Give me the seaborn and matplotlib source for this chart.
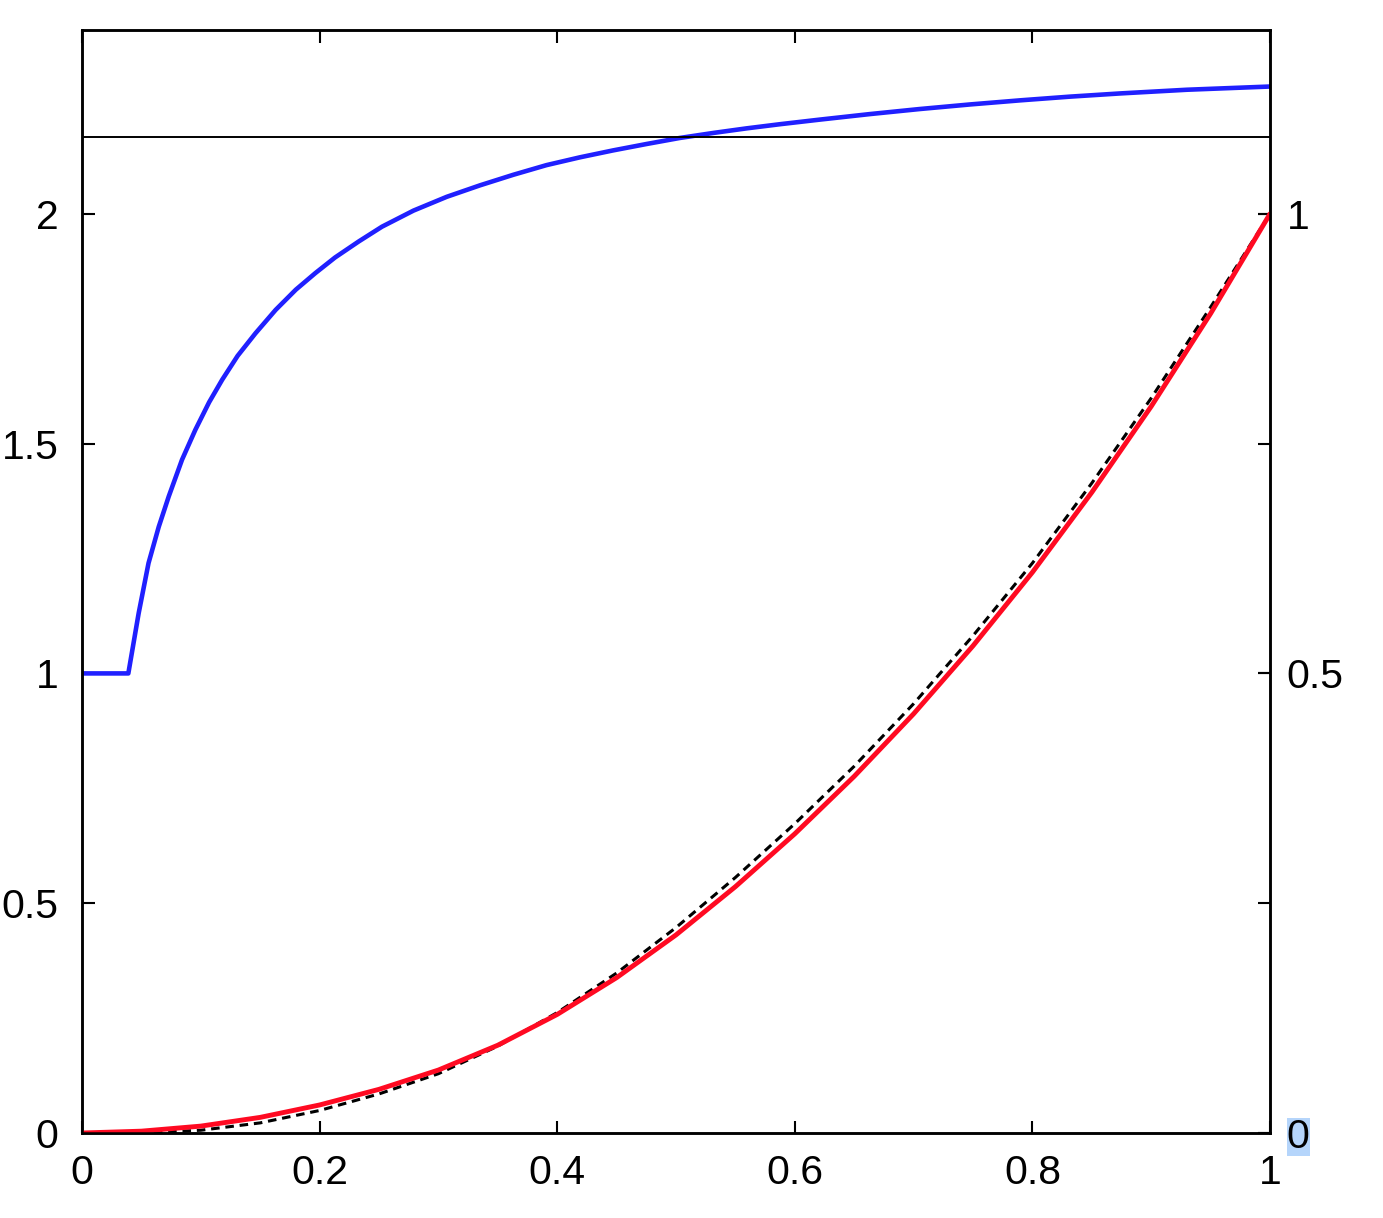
import numpy as np
import pandas as pd
import matplotlib
matplotlib.use("Agg")
import matplotlib.pyplot as plt
import seaborn as sns

# --- data ---
blue_x = [0.0, 0.039, 0.0477, 0.056, 0.0646, 0.073, 0.0842, 0.0954, 0.107, 0.118,
          0.131, 0.146, 0.163, 0.180, 0.1964, 0.213, 0.233, 0.2525, 0.279, 0.307,
          0.335, 0.3631, 0.391, 0.4192, 0.447, 0.4753, 0.503, 0.5314, 0.5595, 0.5875,
          0.621, 0.663, 0.705, 0.7475, 0.79, 0.8316, 0.874, 0.930, 1.0]
blue_y = [1.0, 1.0, 1.131, 1.240, 1.319, 1.385, 1.465, 1.530, 1.590, 1.639,
          1.691, 1.740, 1.791, 1.835, 1.871, 1.905, 1.940, 1.972, 2.007, 2.037,
          2.062, 2.085, 2.106, 2.123, 2.138, 2.152, 2.165, 2.176, 2.186, 2.195,
          2.205, 2.217, 2.228, 2.238, 2.247, 2.255, 2.262, 2.270, 2.277]

hline_y = 2.167

red_x = [0.0, 0.05, 0.10, 0.15, 0.20, 0.25, 0.30, 0.35, 0.40, 0.45, 0.50,
         0.55, 0.60, 0.65, 0.70, 0.75, 0.80, 0.85, 0.90, 0.95, 1.0]
red_y = [0.0, 0.002, 0.0075, 0.017, 0.0305, 0.0475, 0.0685, 0.0955, 0.129, 0.169, 0.2155,
         0.268, 0.3255, 0.388, 0.456, 0.530, 0.610, 0.697, 0.7905, 0.8915, 1.0]

dash_x = [0.0, 0.05, 0.10, 0.15, 0.20, 0.25, 0.30, 0.35, 0.40, 0.45, 0.50,
          0.55, 0.60, 0.65, 0.70, 0.75, 0.80, 0.85, 0.90, 0.95, 1.0]
dash_y = [0.0, 0.0, 0.003, 0.011, 0.0245, 0.0425, 0.0645, 0.0945, 0.131, 0.174, 0.2235,
          0.278, 0.3365, 0.399, 0.467, 0.541, 0.620, 0.707, 0.7995, 0.8985, 1.0]

x_ticks = [0, 0.2, 0.4, 0.6, 0.8, 1]
x_labels = ["0", "0.2", "0.4", "0.6", "0.8", "1"]
left_ticks = [0, 0.5, 1, 1.5, 2]
left_labels = ["0", "0.5", "1", "1.5", "2"]
right_ticks = [0, 0.5, 1]
right_labels = ["0", "0.5", "1"]

sns.set_style("ticks")
plt.rcParams['font.family'] = ['Liberation Sans', 'DejaVu Sans']

fig = plt.figure(figsize=(13.83, 12.18), dpi=100)
ax = fig.add_axes([82 / 1383, 85 / 1218, 1188 / 1383, 1103 / 1218])
ax2 = ax.twinx()

# left axis: blue curve + horizontal reference line
sns.lineplot(x=blue_x, y=blue_y, ax=ax, color='#2020ff', lw=3.3, sort=False)
ax.axhline(hline_y, color='black', lw=1.4)

# right axis: dashed black first, red drawn over it
sns.lineplot(x=dash_x, y=dash_y, ax=ax2, color='black', lw=2.2, sort=False,
             linestyle=(0, (2.8, 1.9)))
sns.lineplot(x=red_x, y=red_y, ax=ax2, color='#ff0a22', lw=3.5, sort=False)

ax.set_xlim(0, 1)
ax.set_ylim(0, 2.4)
ax2.set_ylim(0, 1.2)

ax.set_xticks(x_ticks)
ax.set_xticklabels(x_labels)
ax.set_yticks(left_ticks)
ax.set_yticklabels(left_labels)
ax2.set_yticks(right_ticks)
ax2.set_yticklabels(right_labels)

ax.tick_params(axis='x', direction='in', length=9, width=1.5, labelsize=29.5,
               pad=15, top=True, colors='black')
ax.tick_params(axis='y', direction='in', length=9, width=1.5, labelsize=29.5,
               pad=17, right=True, colors='black')
ax2.tick_params(axis='y', direction='in', length=9, width=1.5, labelsize=29.5,
                pad=12, colors='black')

for a in (ax, ax2):
    for s in a.spines.values():
        s.set_linewidth(1.8)
        s.set_color('black')
    a.set_xlabel('')
    a.set_ylabel('')

# selection highlight behind the right "0"
ax2.get_yticklabels()[0].set_bbox(dict(facecolor='#b5d5fb', edgecolor='none', pad=0))

fig.savefig('out.png', dpi=100)
